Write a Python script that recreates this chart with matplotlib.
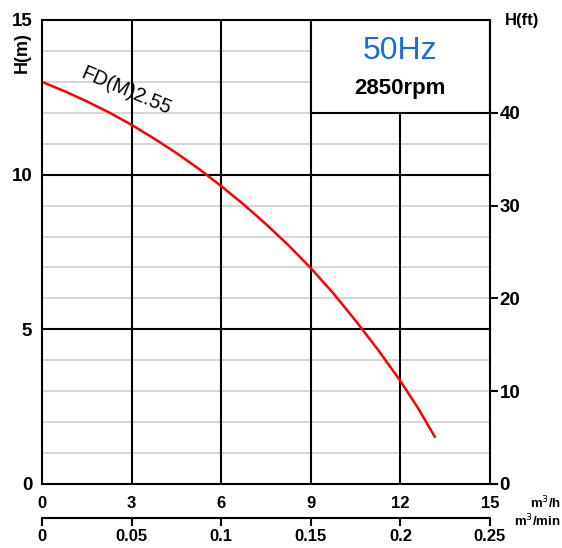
import matplotlib.pyplot as plt
from matplotlib.patches import Rectangle

plt.rcParams['font.family'] = ['Liberation Sans', 'DejaVu Sans']

# pump curve
flow_m3h = [0, 0.75, 1.5, 2.25, 3, 3.75, 4.5, 5.25, 6, 6.75, 7.5, 8.25, 9,
            9.75, 10.5, 11.25, 12, 12.6, 13.15]
head_m = [13.0, 12.70, 12.37, 12.01, 11.61, 11.17, 10.70, 10.19, 9.63, 9.04, 8.40, 7.72, 6.98,
          6.17, 5.28, 4.34, 3.33, 2.44, 1.53]

x_ticks = [0, 3, 6, 9, 12, 15]
y_ticks = [0, 5, 10, 15]
ft_ticks = [0, 10, 20, 30, 40]
min_ticks = [0, 0.05, 0.1, 0.15, 0.2, 0.25]
min_labels = ['0', '0.05', '0.1', '0.15', '0.2', '0.25']

fig = plt.figure(figsize=(5.62, 5.48), dpi=100)
ax = fig.add_axes([42 / 562, 64 / 548, 448 / 562, 464 / 548])
ax.set_xlim(0, 15)
ax.set_ylim(0, 15)

# grid: light grey every metre, black at the major ticks
for h in range(1, 15):
    if h % 5:
        ax.axhline(h, color='#cccccc', lw=1.1, zorder=1)
for h in [5, 10]:
    ax.axhline(h, color='black', lw=1.5, zorder=2)
for q in [3, 6, 9, 12]:
    ax.axvline(q, color='black', lw=1.5, zorder=2)

# label box in the upper right corner
ax.add_patch(Rectangle((9, 12), 6, 3, facecolor='white', edgecolor='black',
                       lw=1.5, zorder=3))
ax.text(12, 14.0, '50Hz', color='#1a6fd6', fontsize=23, ha='center', va='center', zorder=4)
ax.text(12, 12.8, '2850rpm', color='black', fontsize=16, fontweight='bold',
        ha='center', va='center', zorder=4)

ax.plot(flow_m3h, head_m, color='#ff0000', lw=1.8, zorder=5)
ax.text(2.82, 12.72, 'FD(M)2.55', fontsize=14.5, rotation=-23, ha='center', va='center', zorder=5)

for s in ax.spines.values():
    s.set_linewidth(1.5)
    s.set_zorder(6)

ax.set_xticks(x_ticks)
ax.set_yticks(y_ticks)
ax.tick_params(axis='x', length=0, pad=9, labelsize=12)
ax.tick_params(axis='y', length=0, pad=7, labelsize=13.5)
for lab in ax.get_xticklabels() + ax.get_yticklabels():
    lab.set_fontweight('bold')

# head in feet on the right
axr = ax.twinx()
axr.set_ylim(0, 50)
axr.set_yticks(ft_ticks)
axr.tick_params(axis='y', direction='out', length=6, width=1.5, pad=1, labelsize=13.5)
for lab in axr.get_yticklabels():
    lab.set_fontweight('bold')
for s in axr.spines.values():
    s.set_visible(False)

# flow in m3/min below
axm = ax.secondary_xaxis(-34 / 464, functions=(lambda q: q / 60, lambda m: m * 60))
axm.set_xticks(min_ticks, min_labels)
axm.tick_params(axis='x', direction='out', length=6, width=1.5, pad=2, labelsize=12)
axm.spines['bottom'].set_linewidth(1.5)
for lab in axm.get_xticklabels():
    lab.set_fontweight('bold')

fig.text(22 / 562, 1 - 53 / 548, 'H(m)', rotation=90, fontsize=13, fontweight='bold',
         ha='center', va='center')
fig.text(522 / 562, 1 - 20 / 548, 'H(ft)', fontsize=12, fontweight='bold',
         ha='center', va='center')
fig.text(561 / 562, 1 - 503 / 548, 'm$^3$/h', fontsize=9.5, fontweight='bold',
         ha='right', va='center')
fig.text(561 / 562, 1 - 521 / 548, 'm$^3$/min', fontsize=9.5, fontweight='bold',
         ha='right', va='center')

fig.savefig('out.png', dpi=100)
